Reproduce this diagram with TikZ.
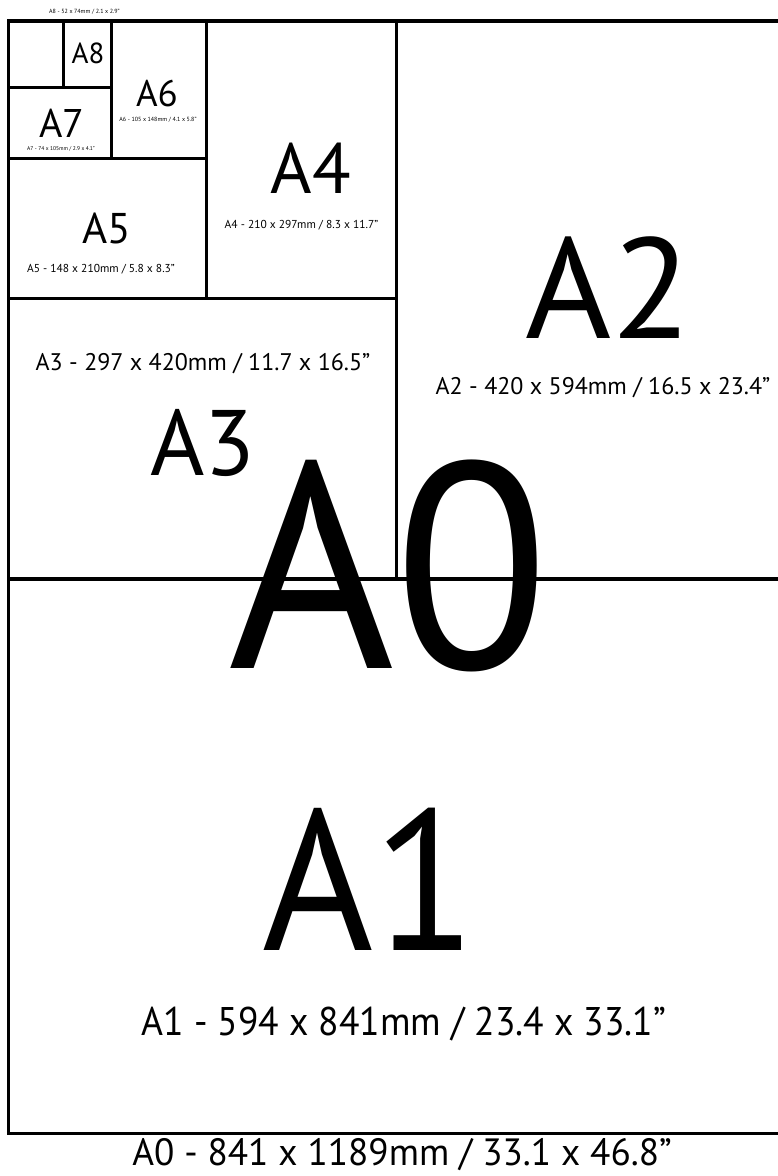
\documentclass[tikz,border=0pt]{standalone}
\usepackage{fontspec}
\setmainfont{PT Sans}
\usepackage{tikz}
\usetikzlibrary{positioning}
\definecolor{SheetBlack}{HTML}{000000}
\definecolor{SheetWhite}{HTML}{ffffff}
\newcommand{\sheetfont}[1]{\fontsize{#1}{#1}\selectfont}
\tikzset{
    % Line styles
    sheetline/.style={
        draw=SheetBlack,
        line width=3.5pt,
        line join=miter
    },
    % Node styles
    sheetname/.style={
        inner sep=0pt,
        anchor=base,
        text=SheetBlack
    },
    sheetsize/.style={
        inner sep=0pt,
        anchor=base,
        text=SheetBlack
    }
}
\begin{document}
\begin{tikzpicture}[x=1pt, y=-1pt]
    \useasboundingbox (0,0) rectangle (778,1176);
    \fill[SheetWhite] (0,0) rectangle (778,1176);
    \clip (0,0) rectangle (778,1176);

    % sheets
    \draw[sheetline] (8.5,579) rectangle (820,1133.5);
    \draw[sheetline] (396.5,21) rectangle (820,579);
    \draw[sheetline] (8.5,298.5) rectangle (396.5,579);
    \draw[sheetline] (206.5,21) rectangle (396.5,298.5);
    \draw[sheetline] (8.5,158.5) rectangle (206.5,298.5);
    \draw[sheetline] (111.5,21) rectangle (206.5,158.5);
    \draw[sheetline] (8.5,87.5) rectangle (111.5,158.5);
    \draw[sheetline] (63.5,21) rectangle (111.5,87.5);
    \draw[sheetline] (8.5,21) rectangle (63.5,87.5);

    % names
    \node[sheetname, font=\sheetfont{29}] (a8) at (88,63) {A8};
    \node[sheetname, font=\sheetfont{40}] (a7) at (62,137) {A7};
    \node[sheetname, font=\sheetfont{37}] (a6) at (157,106) {A6};
    \node[sheetname, font=\sheetfont{43}] (a5) at (107,243) {A5};
    \node[sheetname, font=\sheetfont{71}] (a4) at (311,193) {A4};
    \node[sheetname, font=\sheetfont{93}] (a3) at (203,475) {A3};
    \node[sheetname, font=\sheetfont{143}, xscale=1.03] (a2) at (609,338) {A2};
    \node[sheetname, font=\sheetfont{200}, xscale=0.95] (a1) at (370,950) {A1};
    \node[sheetname, font=\sheetfont{293}, xscale=0.97] (a0) at (389,668) {A0};

    % sizes
    \node[sheetsize, font=\sheetfont{6}] (a8size) at (84.5,13) {A8 - 52 x 74mm / 2.1 x 2.9''};
    \node[sheetsize, font=\sheetfont{5.5}] (a7size) at (61,150) {A7 - 74 x 105mm / 2.9 x 4.1''};
    \node[sheetsize, font=\sheetfont{6}] (a6size) at (158,121) {A6 - 105 x 148mm / 4.1 x 5.8''};
    \node[sheetsize, font=\sheetfont{11.5}] (a5size) at (101,272) {A5 - 148 x 210mm / 5.8 x 8.3''};
    \node[sheetsize, font=\sheetfont{11.5}] (a4size) at (301.5,228) {A4 - 210 x 297mm / 8.3 x 11.7''};
    \node[sheetsize, font=\sheetfont{24}] (a3size) at (203,370) {A3 - 297 x 420mm / 11.7 x 16.5''};
    \node[sheetsize, font=\sheetfont{24}] (a2size) at (603,394) {A2 - 420 x 594mm / 16.5 x 23.4''};
    \node[sheetsize, font=\sheetfont{40}, xscale=0.94] (a1size) at (404,1035) {A1 - 594 x 841mm / 23.4 x 33.1''};
    \node[sheetsize, font=\sheetfont{38}, xscale=0.98] (a0size) at (402,1165) {A0 - 841 x 1189mm / 33.1 x 46.8''};
\end{tikzpicture}
\end{document}
